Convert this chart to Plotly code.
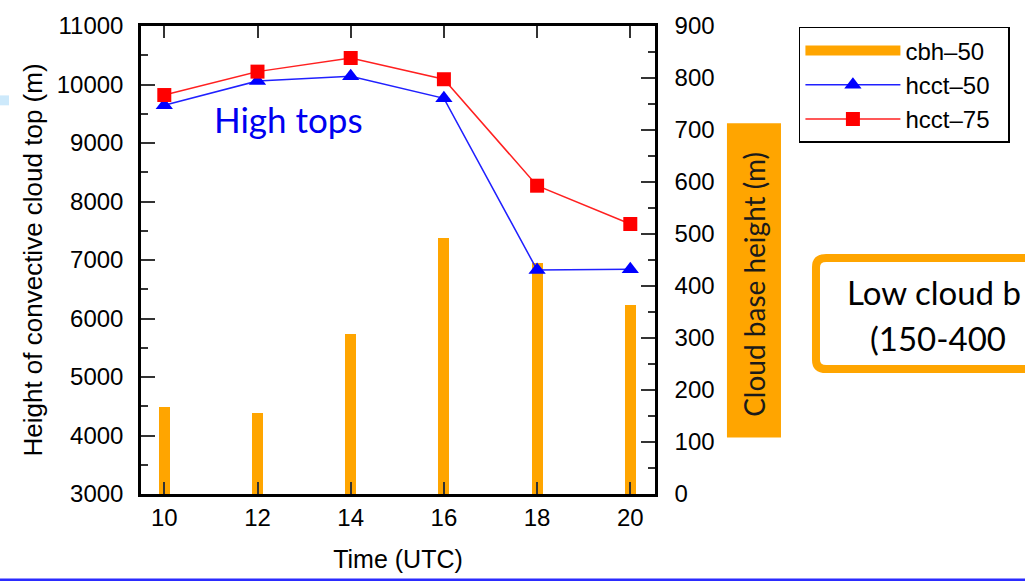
import plotly.graph_objects as go

# ---- data ----
times = [10, 12, 14, 16, 18, 20]
cbh_50 = [167, 155, 308, 493, 444, 364]          # cloud base height (m), right axis
hcct_50 = [9645, 10060, 10140, 9763, 6830, 6840]  # convective cloud top (m), left axis
hcct_75 = [9820, 10220, 10453, 10090, 8270, 7615]
x_ticks = [10, 12, 14, 16, 18, 20]
left_ticks = [3000, 4000, 5000, 6000, 7000, 8000, 9000, 10000, 11000]
right_ticks = [0, 100, 200, 300, 400, 500, 600, 700, 800, 900]

ORANGE = "#FFA500"
FONT = "Liberation Sans, Arial, sans-serif"
ANNO_FONT = "Lato, Open Sans, sans-serif"
NB = "\u00a0"
PAD_R = NB * 2

fig = go.Figure()

# legend proxy for the bars (drawn as a thick line like the reference)
fig.add_trace(go.Scatter(x=[None], y=[None], mode="lines", name="cbh\u201350" + PAD_R,
                         line=dict(color=ORANGE, width=11), yaxis="y", showlegend=True))
fig.add_trace(go.Bar(x=times, y=cbh_50, width=0.24, marker=dict(color=ORANGE, line=dict(width=0)),
                     name="cbh\u201350", showlegend=False, yaxis="y"))
fig.add_trace(go.Scatter(x=times, y=hcct_50, mode="lines+markers", name="hcct\u201350" + PAD_R,
                         line=dict(color="#2020FF", width=1.5),
                         marker=dict(symbol="triangle-up", size=15, color="#0000FF"), yaxis="y2"))
fig.add_trace(go.Scatter(x=times, y=hcct_75, mode="lines+markers", name="hcct\u201375" + PAD_R,
                         line=dict(color="#FF2020", width=1.5),
                         marker=dict(symbol="square", size=14, color="#FF0000"), yaxis="y2"))

axis_common = dict(showline=True, linecolor="black", linewidth=2.5, showgrid=False, zeroline=False,
                   ticks="inside", tickcolor="#333", tickwidth=1.5, tickformat="d",
                   tickfont=dict(family=FONT, size=24, color="black"))

fig.update_layout(
    width=1025, height=581,
    margin=dict(l=141, r=370, t=23, b=86),
    paper_bgcolor="white", plot_bgcolor="white",
    bargap=0,
    xaxis=dict(range=[9.5, 20.53], tickvals=x_ticks, ticklen=12, mirror="ticks",
               ticklabelstandoff=0,
               title=dict(text="Time (UTC)", font=dict(family=FONT, size=25, color="black"), standoff=21),
               **axis_common),
    yaxis=dict(range=[0, 900], tickvals=right_ticks, side="right", ticklen=14,
               minor=dict(dtick=50, ticklen=7, ticks="inside", tickcolor="#333", tickwidth=1.5),
               ticklabelstandoff=12, **axis_common),
    yaxis2=dict(range=[3000, 11000], tickvals=left_ticks, side="left", overlaying="y", ticklen=14,
                minor=dict(dtick=500, ticklen=7, ticks="inside", tickcolor="#333", tickwidth=1.5),
                ticklabelstandoff=10,
                title=dict(text="Height of convective cloud top (m)",
                           font=dict(family=FONT, size=26, color="black"), standoff=7),
                **axis_common),
    legend=dict(x=1.28, y=0.998, xanchor="left", yanchor="top", bgcolor="white",
                bordercolor="black", borderwidth=1.5, traceorder="normal", itemwidth=95,
                font=dict(family=FONT, size=24, color="black"), tracegroupgap=0),
    showlegend=True,
)

shapes = [
    # orange box behind the right-axis title
    dict(type="rect", xref="paper", yref="paper", x0=1.140, x1=1.2451, y0=0.1208, y1=0.7924,
         fillcolor=ORANGE, line=dict(width=0), layer="below"),
    # rounded orange frame (runs off the right edge)
    dict(type="path", xref="paper", yref="paper",
         path="M 1.333,0.5042 L 1.85,0.5042 L 1.85,0.2669 L 1.333,0.2669 "
              "Q 1.3132,0.2669 1.3132,0.2869 L 1.3132,0.4842 Q 1.3132,0.5042 1.333,0.5042 Z",
         line=dict(color=ORANGE, width=8), fillcolor="white"),
    # slide decorations
    dict(type="rect", xref="paper", yref="paper", x0=-0.2743, x1=1.73, y0=-0.1875, y1=-0.1808,
         fillcolor="#2B2BFF", line=dict(width=0)),
    dict(type="rect", xref="paper", yref="paper", x0=-0.2743, x1=-0.2568, y0=0.8305, y1=0.8517,
         fillcolor="#CDE9FB", line=dict(width=0)),
]
fig.update_layout(shapes=shapes)

fig.add_annotation(xref="paper", yref="paper", x=0.286, y=0.801, xanchor="center", yanchor="middle",
                   text="High tops", showarrow=False,
                   font=dict(family=ANNO_FONT, size=35, color="#0000F0"))
fig.add_annotation(xref="paper", yref="paper", x=1.1926, y=0.449, xanchor="center", yanchor="middle",
                   text="Cloud base height (m)", textangle=-90, showarrow=False,
                   font=dict(family=ANNO_FONT, size=28, color="#1A1A1A"))
# the reference shows this label cut by the slide edge; only the visible part is kept
fig.add_annotation(xref="paper", yref="paper", x=1.369, y=0.432, xanchor="left", yanchor="middle",
                   text="Low cloud b", showarrow=False, align="left",
                   font=dict(family=ANNO_FONT, size=33, color="black"))
fig.add_annotation(xref="paper", yref="paper", x=1.414, y=0.334, xanchor="left", yanchor="middle",
                   text="(150-400", showarrow=False, align="left",
                   font=dict(family=ANNO_FONT, size=33, color="black"))

fig.write_html("out.html")
